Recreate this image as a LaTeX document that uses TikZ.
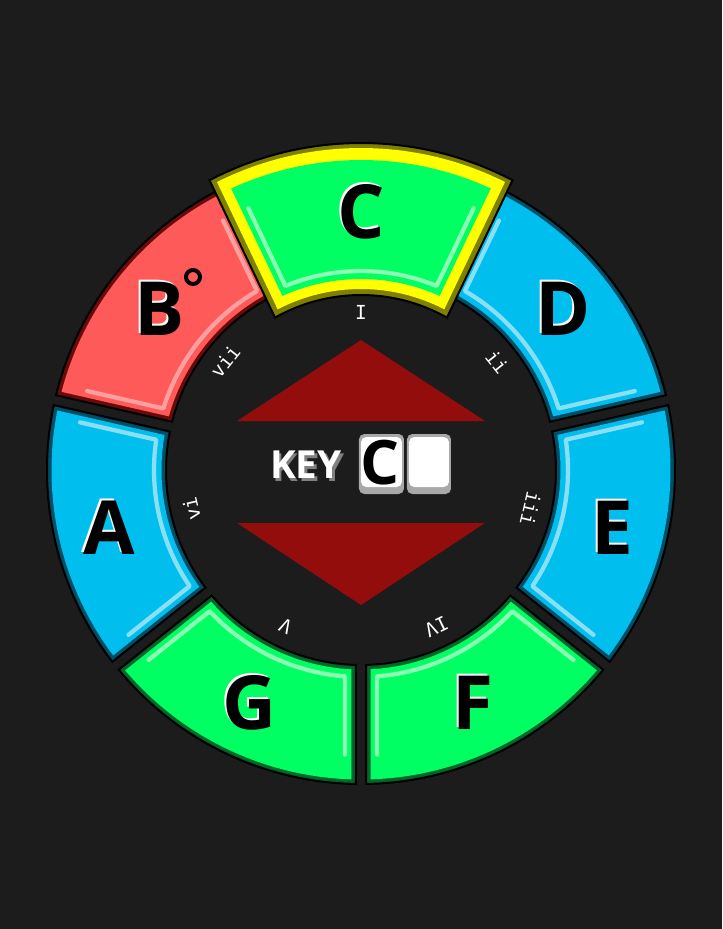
\documentclass[tikz,border=0pt]{standalone}
\usepackage{fontspec}
\setmainfont{Open Sans}
\newfontfamily\romanfont{DejaVu Sans Mono}
\definecolor{bgdark}{HTML}{1C1C1C}
\definecolor{bluekey}{HTML}{00BFEF}
\definecolor{bluebd}{HTML}{004F66}
\definecolor{blueglint}{HTML}{8ADFF5}
\definecolor{greenkey}{HTML}{00FF62}
\definecolor{greenbd}{HTML}{00662A}
\definecolor{greenglint}{HTML}{8CFFB5}
\definecolor{redkey}{HTML}{FF5A5A}
\definecolor{redbd}{HTML}{6B0A0A}
\definecolor{redglint}{HTML}{FFA0A0}
\definecolor{olivebd}{HTML}{808000}
\definecolor{yellowkey}{HTML}{FFFF00}
\definecolor{keyred}{HTML}{930D0D}
\definecolor{boxgray}{HTML}{A8A8A8}

% corners of a ring piece: centre angle, half span, inner r, outer r, half gap
\newcommand{\piececorners}[5]{%
  \pgfmathsetmacro\angInA{#1-#2+asin(#5/#3)}%
  \pgfmathsetmacro\angInB{#1+#2-asin(#5/#3)}%
  \pgfmathsetmacro\angOutA{#1-#2+asin(#5/#4)}%
  \pgfmathsetmacro\angOutB{#1+#2-asin(#5/#4)}%
}
\newcommand{\piecepath}[2]{(\angInA:#1) arc[start angle=\angInA, end angle=\angInB, radius=#1]
  -- (\angOutB:#2) arc[start angle=\angOutB, end angle=\angOutA, radius=#2] -- cycle}
\newcommand{\glintpath}[2]{(\angOutA:#2) -- (\angInA:#1) arc[start angle=\angInA, end angle=\angInB, radius=#1]
  -- (\angOutB:#2)}

% one chord of the ring
\newcommand{\chordpiece}[4]{%
  \piececorners{#1}{25.7}{195}{314}{5}
  \fill[#3, draw=black, line width=1.5pt] \piecepath{195}{314};
  \piececorners{#1}{25.7}{199.5}{309.5}{9.5}
  \fill[#2] \piecepath{199.5}{309.5};
  \piececorners{#1}{25.7}{207}{285}{16}
  \draw[#4, line width=3.2pt, line cap=round, line join=round] \glintpath{207}{285};
}

\begin{document}
\begin{tikzpicture}[x=0.75pt,y=0.75pt,
  chordlbl/.style={font=\bfseries\fontsize{56}{56}\selectfont, inner sep=0pt},
  chordshade/.style={chordlbl, text=white, xshift=-1.5pt, yshift=1.5pt},
  degreelbl/.style={font=\romanfont\fontsize{14.5}{14.5}\selectfont, text=white, inner sep=0pt}]
  \useasboundingbox (-361,-459) rectangle (361,470);
  \fill[bgdark] (-361,-459) rectangle (361,470);

  % ring of chords
  \foreach \k/\main/\bord/\gl in {1/bluekey/bluebd/blueglint,2/bluekey/bluebd/blueglint,
      3/greenkey/greenbd/greenglint,4/greenkey/greenbd/greenglint,
      5/bluekey/bluebd/blueglint,6/redkey/redbd/redglint}{
    \chordpiece{90-\k*360/7}{\main}{\bord}{\gl}
  }

  % tonic, highlighted
  \piececorners{90}{25.5}{175}{327}{-12}
  \fill[olivebd, draw=black, line width=1.5pt] \piecepath{175}{327};
  \piececorners{90}{25.5}{181}{322}{-6}
  \fill[yellowkey] \piecepath{181}{322};
  \piececorners{90}{25.5}{191}{310}{4}
  \fill[greenkey] \piecepath{191}{310};
  \piececorners{90}{25.5}{199}{285}{11}
  \draw[greenglint, line width=3.2pt, line cap=round, line join=round] \glintpath{199}{285};

  % chord names
  \foreach \k/\lbl in {0/C,1/D,2/E,3/F,4/G,5/A,6/B}{
    \node[chordshade] at ({90-\k*360/7}:258) {\lbl};
    \node[chordlbl] (chord\lbl) at ({90-\k*360/7}:258) {\lbl};
  }
  \draw[black, line width=3pt] (-168,193) circle[radius=7];

  % scale degrees
  \node[degreelbl] (degI) at (90:158) {I};
  \foreach \k/\num in {1/ii,2/iii,3/IV,4/V,5/vi,6/vii}{
    \node[degreelbl, rotate={-\k*360/7}] (deg\num) at ({90-\k*360/7}:174) {\num};
  }

  % key selector
  \fill[keyred] (0,130) -- (124,49) -- (-124,49) -- cycle;
  \fill[keyred] (0,-135) -- (124,-53) -- (-124,-53) -- cycle;
  \node[font=\bfseries\fontsize{29}{29}\selectfont, text=gray, inner sep=0pt] at (-52.5,2.5) {KEY};
  \node[font=\bfseries\fontsize{29}{29}\selectfont, text=white, inner sep=0pt] (keytxt) at (-55,5) {KEY};
  \fill[boxgray, rounded corners=4] (-2,-24) rectangle (43,36);
  \fill[white, rounded corners=4] (0,-17) rectangle (41,33);
  \fill[boxgray, rounded corners=4] (46,-24) rectangle (90,36);
  \fill[white, rounded corners=4] (48,-17) rectangle (88,33);
  \node[font=\bfseries\fontsize{46}{46}\selectfont, inner sep=0pt] (keyname) at (19,7) {C};
\end{tikzpicture}
\end{document}
